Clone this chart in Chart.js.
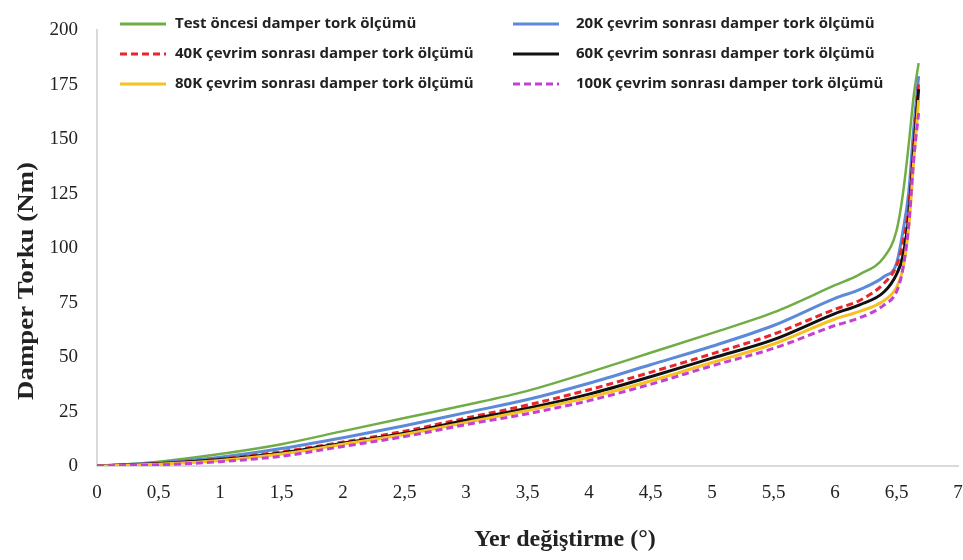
<!DOCTYPE html>
<html>
<head>
<meta charset="utf-8">
<script src="https://cdn.jsdelivr.net/npm/chart.js@4"></script>
<style>
  html, body { margin: 0; padding: 0; background: #fff; }
  #wrap { width: 963px; height: 560px; position: relative; }
</style>
</head>
<body>
<div id="wrap"><canvas id="torkChart"></canvas></div>
<script>
const xs = [0, 0.5, 1, 1.5, 2, 2.5, 3, 3.5, 4, 4.5, 5, 5.5, 6, 6.2, 6.4, 6.5, 6.55, 6.6, 6.64, 6.68];

const testOncesi = [0, 2, 5.5, 10, 16, 22, 28, 34.5, 43, 52, 61, 70.5, 83, 88, 96, 108, 124, 148, 170, 185];
const cevrim20K  = [0, 1.5, 4, 8, 13, 18.5, 24.5, 30.5, 38, 46.5, 55, 64.5, 77, 81, 87, 93, 107, 126, 155, 179];
const cevrim40K  = [0, 1.2, 3.2, 6.5, 11, 16, 22, 28, 35, 43, 51.5, 60.5, 72, 76, 84, 92, 102, 119, 148, 176];
const cevrim60K  = [0, 1, 3, 6, 10.5, 15, 21, 26.5, 33, 41, 49.5, 58, 70, 74, 80, 88, 96, 115, 145, 173];
const cevrim80K  = [0, 0.8, 2.5, 5.5, 10, 14.5, 20, 25.5, 31.5, 39, 47.5, 56, 67.5, 71, 76, 82, 90, 110, 140, 168];
const cevrim100K = [0, 0.5, 2, 4.5, 9, 13.5, 19, 24, 30, 37.5, 46, 54, 64.5, 68, 74, 80, 90, 111, 141, 162];

const seriesNames = [
  'Test öncesi damper tork ölçümü',
  '20K çevrim sonrası damper tork ölçümü',
  '40K çevrim sonrası damper tork ölçümü',
  '60K çevrim sonrası damper tork ölçümü',
  '80K çevrim sonrası damper tork ölçümü',
  '100K çevrim sonrası damper tork ölçümü',
];

const xTickLabels = ['0', '0,5', '1', '1,5', '2', '2,5', '3', '3,5', '4', '4,5', '5', '5,5', '6', '6,5', '7'];
const yTickLabels = ['0', '25', '50', '75', '100', '125', '150', '175', '200'];

const xTitle = 'Yer değiştirme (°)';
const yTitle = 'Damper Torku (Nm)';

const styles = [
  { color: '#70ad47', dash: [],     width: 2.5 },
  { color: '#5b8bd8', dash: [],     width: 3 },
  { color: '#e8262c', dash: [7, 4], width: 3 },
  { color: '#111111', dash: [],     width: 3 },
  { color: '#f7c121', dash: [],     width: 3 },
  { color: '#c53fd6', dash: [7, 4], width: 3 },
];

const allSeries = [testOncesi, cevrim20K, cevrim40K, cevrim60K, cevrim80K, cevrim100K];

const datasets = allSeries.map((vals, i) => ({
  label: seriesNames[i],
  data: vals.map((v, j) => ({ x: xs[j], y: v })),
  borderColor: styles[i].color,
  backgroundColor: styles[i].color,
  borderDash: styles[i].dash,
  borderWidth: styles[i].width,
  pointRadius: 0,
  cubicInterpolationMode: 'monotone',
  fill: false,
  order: 6 - i,
}));

// legend in two columns, inside the plot, like the original
const legendTwoCols = {
  id: 'legendTwoCols',
  afterDraw(chart) {
    const ctx = chart.ctx;
    const colLine = [120, 513];
    const colText = [175, 576];
    const rowY = [24, 54, 84];
    ctx.save();
    chart.data.datasets.forEach((ds, i) => {
      const c = i % 2, r = Math.floor(i / 2);
      const y = rowY[r];
      ctx.beginPath();
      ctx.strokeStyle = ds.borderColor;
      ctx.lineWidth = 3;
      ctx.setLineDash(ds.borderDash);
      ctx.moveTo(colLine[c], y);
      ctx.lineTo(colLine[c] + 46, y);
      ctx.stroke();
      ctx.setLineDash([]);
      ctx.fillStyle = '#222';
      ctx.font = 'bold 15px "Open Sans"';
      ctx.textBaseline = 'middle';
      ctx.textAlign = 'left';
      ctx.fillText(ds.label, colText[c], y);
    });
    ctx.restore();
  }
};

// axis titles sit off-centre in the original, so draw them here
const axisTitles = {
  id: 'axisTitles',
  afterDraw(chart) {
    const ctx = chart.ctx;
    ctx.save();
    ctx.fillStyle = '#222';
    ctx.textAlign = 'center';
    ctx.textBaseline = 'middle';
    ctx.font = 'bold 24px "Liberation Serif"';
    ctx.fillText(xTitle, 565, 540);
    ctx.translate(27, 281);
    ctx.rotate(-Math.PI / 2);
    ctx.scale(1.12, 1);
    ctx.fillText(yTitle, 0, 0);
    ctx.restore();
  }
};

new Chart(document.getElementById('torkChart'), {
  type: 'line',
  data: { datasets },
  plugins: [legendTwoCols, axisTitles],
  options: {
    responsive: true,
    maintainAspectRatio: false,
    animation: false,
    layout: { padding: { top: 18, right: 5, left: 0, bottom: 0 } },
    plugins: { legend: { display: false }, tooltip: { enabled: false } },
    scales: {
      x: {
        type: 'linear',
        min: 0, max: 7,
        afterFit: (s) => { s.height = 94; s.paddingLeft = 0; s.paddingRight = 0; },
        afterBuildTicks: (s) => { s.ticks = xTickLabels.map((_, i) => ({ value: i * 0.5 })); },
        grid: { display: false, drawTicks: false },
        border: { display: true, color: '#d9d9d9', width: 2 },
        ticks: {
          padding: 16,
          maxRotation: 0,
          autoSkip: false,
          color: '#222',
          font: { family: '"Liberation Serif"', size: 19 },
          callback: (v, i) => xTickLabels[i],
        },
      },
      y: {
        min: 0, max: 200,
        afterFit: (s) => { s.width = 97; },
        afterBuildTicks: (s) => { s.ticks = yTickLabels.map((_, i) => ({ value: i * 25 })); },
        grid: { display: false, drawTicks: false },
        border: { display: true, color: '#d9d9d9', width: 2 },
        ticks: {
          padding: 19,
          color: '#222',
          font: { family: '"Liberation Serif"', size: 19 },
          callback: (v, i) => yTickLabels[i],
        },
      },
    },
  },
});
</script>
</body>
</html>
